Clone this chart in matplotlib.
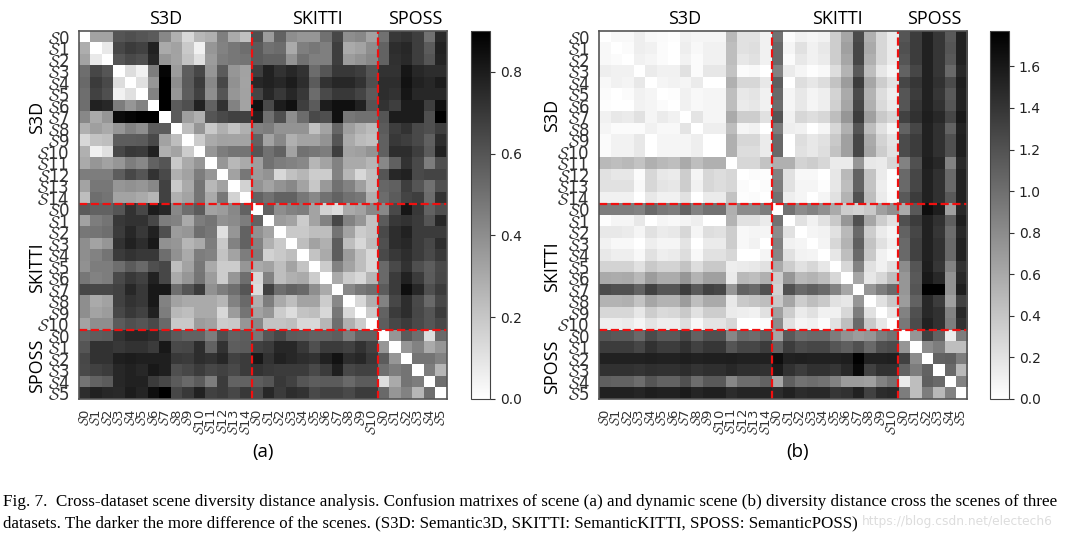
import numpy as np
import matplotlib
matplotlib.use("Agg")
import matplotlib.pyplot as plt

# scene diversity distance (a), in hundredths, order: S3D, SKITTI, SPOSS
scene_dist = [
    [0,32,32,60,62,60,58,42,28,14,25,28,45,30,22, 62,35,55,40,37,37,50,65,40,42,32, 50,70,72,68,50,75],
    [29,0,8,65,69,67,78,30,33,19,5,37,44,48,51, 58,50,52,30,45,48,45,68,30,32,40, 55,74,76,68,58,78],
    [32,8,0,60,64,62,76,37,32,21,11,35,46,48,49, 58,55,55,38,50,45,45,68,35,38,42, 55,73,75,68,60,77],
    [51,65,60,0,12,5,46,88,35,57,65,37,58,37,33, 68,78,72,76,72,52,60,70,70,68,60, 72,72,82,76,74,74],
    [53,69,64,12,0,11,37,90,40,58,69,42,65,39,32, 76,78,76,80,74,58,72,76,76,72,62, 74,74,83,78,76,80],
    [51,67,62,5,11,0,44,90,37,57,67,40,60,37,33, 66,76,70,76,70,52,64,70,70,66,58, 74,72,82,76,76,76],
    [51,78,76,46,37,44,0,90,58,62,78,55,72,44,32, 84,64,80,84,68,58,80,84,84,78,60, 72,68,80,80,68,84],
    [42,30,37,86,88,90,90,0,58,34,28,60,64,67,67, 78,50,62,40,52,64,62,84,48,50,50, 60,80,80,80,62,90],
    [28,34,30,37,44,40,57,58,0,23,37,19,28,21,28, 44,46,38,38,38,22,32,54,34,28,24, 58,68,72,64,62,68],
    [14,21,23,57,57,58,64,33,23,0,18,30,33,32,32, 55,32,42,28,32,32,38,60,30,24,22, 56,70,68,64,56,74],
    [28,5,11,65,70,69,78,28,32,18,0,37,46,49,49, 60,50,55,32,50,48,46,68,32,34,38, 56,74,74,68,58,78],
    [30,37,33,37,46,42,55,60,19,30,37,0,37,25,30, 34,50,46,44,42,26,32,44,30,30,26, 42,56,72,64,46,62],
    [46,46,46,57,65,60,72,64,28,33,46,37,0,33,48, 35,38,14,22,26,18,18,44,26,14,22, 60,76,78,64,66,66],
    [32,48,48,37,39,37,42,67,19,30,49,25,33,0,16, 38,32,38,42,32,20,36,50,44,34,22, 54,56,68,60,50,62],
    [23,51,49,32,32,30,26,67,28,32,49,30,48,16,0, 55,50,55,55,48,42,50,55,50,48,28, 52,58,66,68,52,72],
    [58,55,55,60,72,65,80,76,42,51,58,33,35,42,55, 0,55,40,44,46,32,16,12,30,33,42, 42,64,82,70,55,62],
    [33,46,49,70,72,72,65,46,44,30,46,49,39,41,46, 55,0,35,32,18,32,44,65,44,37,21, 58,70,72,69,60,76],
    [48,49,51,69,76,70,78,62,35,37,51,48,11,37,55, 39,32,0,19,19,23,23,49,32,18,21, 64,74,78,69,69,69],
    [40,32,37,72,78,74,81,39,37,26,30,46,19,44,55, 44,28,19,0,23,33,28,57,23,14,23, 62,74,76,69,65,74],
    [40,44,49,69,72,70,70,51,39,30,46,44,21,32,46, 46,16,19,23,0,21,30,57,35,23,14, 64,70,74,69,64,70],
    [39,46,46,51,58,53,62,65,23,32,48,30,18,18,37, 30,33,23,32,21,0,18,44,32,23,14, 53,64,72,62,57,64],
    [48,44,46,64,70,67,78,65,30,37,49,35,18,37,51, 14,44,23,28,30,18,0,30,18,14,26, 53,69,78,69,58,65],
    [65,65,65,67,76,70,81,81,51,60,69,39,46,51,60, 12,67,51,55,53,40,30,0,42,48,51, 58,69,85,76,62,69],
    [40,30,33,67,72,70,81,44,33,30,30,30,26,44,53, 28,46,30,23,32,32,18,42,0,14,28, 44,65,74,64,53,65],
    [40,32,35,65,70,67,78,46,25,23,30,30,14,35,49, 32,37,18,12,21,23,14,48,14,0,18, 55,69,74,65,60,69],
    [32,40,40,58,62,60,64,53,19,19,35,33,18,19,37, 42,21,21,23,14,14,26,51,28,18,0, 57,65,69,64,60,65],
    [55,57,58,72,76,76,74,64,58,55,55,46,62,55,57, 48,60,65,58,57,55,55,57,46,55,55, 0,37,58,51,12,53],
    [60,72,72,70,72,72,69,81,64,65,74,55,72,57,58, 67,69,76,76,70,62,69,69,67,72,67, 37,0,37,44,30,37],
    [65,72,72,79,80,79,79,79,70,69,74,72,76,67,69, 81,72,78,76,74,72,78,83,74,76,70, 58,37,0,49,49,44],
    [64,67,69,76,78,76,81,79,62,65,69,65,67,64,69, 72,70,69,69,69,64,69,79,65,67,67, 51,46,49,0,46,26],
    [49,55,58,76,78,78,69,65,58,53,58,46,69,55,55, 57,60,70,67,60,57,58,58,53,58,58, 12,30,49,46,0,51],
    [74,78,76,75,80,77,85,90,65,70,78,67,69,65,70, 64,76,69,74,72,64,67,67,64,69,69, 53,37,44,26,51,0],
]

# dynamic scene diversity distance (b), in hundredths
dynamic_dist = [
    [0,5,5,12,5,4,2,10,7,7,7,49,21,21,10, 97,3,10,7,10,35,62,125,55,28,14, 118,135,153,139,115,153],
    [5,0,3,12,10,3,0,12,5,10,10,45,21,23,10, 104,7,21,10,16,35,66,128,59,28,14, 121,135,153,139,118,153],
    [5,3,0,10,7,3,0,9,3,10,10,45,17,21,10, 104,3,16,10,14,35,62,128,55,28,14, 118,135,153,139,115,153],
    [12,10,10,0,14,10,10,21,3,17,17,42,3,5,0, 87,14,7,2,5,24,52,115,45,17,7, 108,128,153,139,104,149],
    [5,10,8,16,0,7,9,7,14,0,0,55,28,28,16, 111,0,23,17,24,42,69,135,62,35,21, 128,139,153,142,125,156],
    [3,0,3,10,7,0,2,10,5,7,7,45,16,19,10, 104,7,16,8,12,31,59,125,52,24,12, 118,135,153,139,115,153],
    [2,0,0,9,7,3,0,10,5,7,7,45,14,17,10, 101,7,16,7,12,33,62,128,55,26,14, 118,139,153,142,118,153],
    [10,16,14,21,7,14,10,0,19,7,7,59,35,35,21, 118,10,28,23,28,45,73,135,66,38,28, 132,142,156,149,128,160],
    [7,3,3,3,10,5,5,19,0,12,12,45,7,10,0, 90,12,10,0,7,28,55,118,45,21,7, 108,128,153,142,108,153],
    [3,9,9,16,0,7,7,7,12,0,0,55,28,28,14, 104,0,23,16,21,38,66,128,59,31,19, 125,135,153,142,121,156],
    [3,9,9,16,0,7,7,7,12,0,0,55,24,24,14, 104,0,21,16,23,42,66,128,62,35,21, 125,135,153,142,121,156],
    [49,45,49,42,55,49,45,59,45,55,55,0,28,28,42, 55,55,31,35,28,14,14,73,16,14,28, 87,121,156,149,87,149],
    [21,17,17,3,28,16,14,35,7,28,24,28,0,3,2, 87,21,5,5,0,17,49,108,42,14,2, 104,128,153,142,104,153],
    [21,21,21,5,28,19,17,35,10,28,24,28,3,0,3, 90,21,7,7,2,17,45,108,42,12,2, 104,128,153,142,104,153],
    [10,10,10,0,16,10,10,21,0,14,14,42,2,3,0, 97,12,7,0,7,21,52,121,45,14,3, 115,135,153,142,115,153],
    [90,90,90,87,104,94,90,108,87,97,97,55,80,80,90, 0,97,80,87,77,59,35,31,38,66,77, 59,115,167,156,66,149],
    [2,7,7,16,0,7,5,8,12,0,0,52,21,21,14, 97,0,21,10,21,38,73,121,62,35,21, 121,135,153,142,111,156],
    [16,16,14,7,21,14,16,28,7,23,21,35,5,7,7, 80,21,0,7,9,21,49,104,35,14,7, 108,128,153,139,101,149],
    [10,5,5,0,12,7,7,19,0,14,14,35,5,9,0, 87,10,7,0,8,28,52,111,42,21,10, 104,132,153,142,104,153],
    [16,12,12,5,21,12,14,24,5,21,21,28,0,0,7, 83,21,9,8,0,17,45,104,38,10,3, 104,132,153,142,104,153],
    [31,30,30,21,38,30,30,42,24,38,38,12,14,16,21, 59,35,21,28,17,0,28,87,21,10,21, 80,118,156,139,87,142],
    [59,58,59,49,69,58,58,73,52,66,66,14,49,45,55, 35,73,49,52,45,28,0,62,17,28,45, 73,115,160,149,76,149],
    [125,121,121,108,132,118,118,135,115,132,128,73,108,104,121, 31,121,104,111,104,87,62,0,73,90,104, 73,118,175,175,76,156],
    [52,52,55,42,62,52,53,69,45,59,59,16,38,42,45, 38,62,35,45,38,21,17,73,0,21,38, 69,108,149,135,66,132],
    [28,28,28,17,35,26,28,38,21,35,35,14,12,10,21, 66,35,14,21,10,10,28,90,21,0,17, 87,121,149,142,87,149],
    [12,12,14,7,19,12,12,23,5,19,19,28,0,0,3, 80,21,7,10,3,21,45,104,38,17,0, 94,125,153,142,90,142],
    [118,115,115,104,125,115,115,128,108,121,121,83,104,101,111, 62,115,101,104,104,90,76,69,73,90,97, 0,73,132,108,14,90],
    [135,135,135,128,142,135,135,142,132,139,139,118,128,128,135, 108,135,125,128,128,118,111,121,104,121,125, 73,0,80,90,45,45],
    [153,153,153,153,155,153,153,156,153,155,155,156,153,153,153, 167,153,155,153,153,153,156,175,153,153,155, 132,80,0,108,111,90],
    [142,142,142,141,144,142,142,146,141,144,144,149,144,144,142, 158,142,135,142,142,139,149,170,132,142,142, 108,90,108,0,104,49],
    [111,108,108,101,118,108,108,121,101,115,115,83,101,101,108, 62,111,97,101,97,87,69,69,66,87,97, 14,45,111,104,0,87],
    [153,153,153,151,156,153,153,158,151,155,155,146,151,151,151, 146,153,146,149,149,139,142,153,132,146,148, 90,45,90,49,87,0],
]

datasets = ["S3D", "SKITTI", "SPOSS"]
scene_counts = [15, 11, 6]
cbar_ticks_a = [0.0, 0.2, 0.4, 0.6, 0.8]
cbar_ticks_b = [0.0, 0.2, 0.4, 0.6, 0.8, 1.0, 1.2, 1.4, 1.6]
caption = [
    "Fig. 7.  Cross-dataset scene diversity distance analysis. Confusion matrixes of scene (a) and dynamic scene (b) "
    "diversity distance cross the scenes of three",
    "datasets. The darker the more difference of the scenes. (S3D: Semantic3D, SKITTI: SemanticKITTI, SPOSS: SemanticPOSS)",
]
watermark = "https://blog.csdn.net/electech6"

W, H = 1070, 536
plt.rcParams['mathtext.fontset'] = 'cm'
fig = plt.figure(figsize=(W / 100, H / 100), dpi=100)


def px_axes(left, top, right, bottom):
    return fig.add_axes([left / W, 1 - bottom / H, (right - left) / W, (bottom - top) / H])


def draw_panel(matrix, left, cbar_left, vmax, ticks, letter, letter_x, head_x, side_x, side_y):
    ax = px_axes(left, 31, left + 368, 399)
    data = np.array(matrix) / 100
    im = ax.imshow(data, cmap='gray_r', vmin=0, vmax=vmax, aspect='auto', interpolation='nearest')

    labels = [r"$\mathcal{S}$" + str(i) for n in scene_counts for i in range(n)]
    ax.set_xticks(range(len(labels)))
    ax.set_yticks(range(len(labels)))
    ax.set_xticklabels(labels, rotation=90, fontsize=9.5, color='#333333')
    ax.set_yticklabels(labels, fontsize=12, color='#333333')
    ax.tick_params(length=0, pad=7)
    for s in ax.spines.values():
        s.set_color('#555555')
        s.set_linewidth(1.2)

    # dataset separators
    for edge in np.cumsum(scene_counts)[:-1]:
        ax.axhline(edge - 0.5, color='#f01010', ls='--', lw=1.6)
        ax.axvline(edge - 0.5, color='#f01010', ls='--', lw=1.6)

    cax = px_axes(cbar_left, 31, cbar_left + 19, 399)
    cb = fig.colorbar(im, cax=cax)
    cb.set_ticks(ticks)
    cb.ax.tick_params(labelsize=10, length=3.5, width=0.8, color='#333333', labelcolor='#222222')
    cb.outline.set_edgecolor('#444444')

    for name, x in zip(datasets, head_x):
        fig.text(x / W, 1 - 19 / H, name, ha='center', va='center', fontsize=13, family='Open Sans')
    for name, y in zip(datasets, side_y):
        fig.text(side_x / W, 1 - y / H, name, ha='center', va='center', rotation=90,
                 fontsize=13, family='Open Sans')
    fig.text(letter_x / W, 1 - 452 / H, letter, ha='center', va='center', fontsize=13.5, family='Open Sans')


draw_panel(scene_dist, 79, 471, 0.9, cbar_ticks_a, "(a)", 263, [166, 317, 415], 37, [117, 268, 366])
draw_panel(dynamic_dist, 599, 990, 1.77, cbar_ticks_b, "(b)", 798, [685, 837, 934], 552, [115, 267, 367])

fig.text(3 / W, 1 - 502 / H, caption[0], ha='left', va='center', fontsize=12.3, family='Liberation Serif')
fig.text(3 / W, 1 - 523 / H, caption[1], ha='left', va='center', fontsize=12.2, family='Liberation Serif')
fig.text(862 / W, 1 - 522 / H, watermark, ha='left', va='center', fontsize=8.8, color='#dddddd', zorder=0)

fig.savefig('out.png', dpi=100)
